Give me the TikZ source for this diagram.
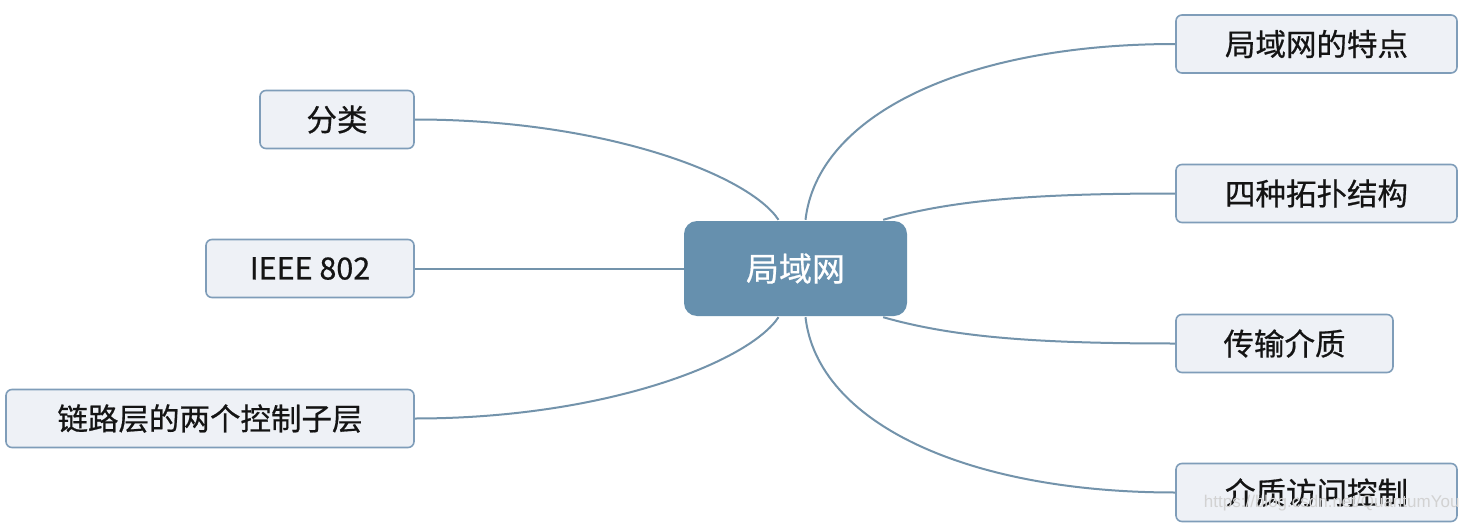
\documentclass[tikz,border=0pt]{standalone}
\usepackage{fontspec}
\newfontfamily\cjk[FakeBold=0.6]{Noto Sans CJK SC}
\newfontfamily\wmfont{Liberation Sans}
\definecolor{hubfill}{HTML}{6690AE}
\definecolor{leaffill}{HTML}{EEF1F6}
\definecolor{leafdraw}{HTML}{7F9DB9}
\definecolor{linkcol}{HTML}{7393AB}
\definecolor{txt}{HTML}{141414}
\tikzset{
  hub/.style={draw=none, fill=hubfill, rounded corners=13pt, minimum width=223pt, minimum height=95pt, inner sep=0pt, text=white, font=\cjk\fontsize{33}{39}\selectfont},
  leaf/.style={draw=leafdraw, line width=1.6pt, fill=leaffill, rounded corners=6pt, minimum height=58pt, inner sep=0pt, text=txt, font=\cjk\fontsize{30.5}{36}\selectfont},
  link/.style={draw=linkcol, line width=2pt}
}
\begin{document}
\begin{tikzpicture}[x=1pt,y=-1pt]
\useasboundingbox[fill=white] (0,0) rectangle (1467,527);
\node[hub] (c) at (795.5,268.5) {局域网};
\node[leaf, minimum width=281pt] (r1) at (1316.5,44) {局域网的特点};
\node[leaf, minimum width=281pt] (r2) at (1316.5,193.5) {四种拓扑结构};
\node[leaf, minimum width=217pt] (r3) at (1284.5,343.5) {传输介质};
\node[leaf, minimum width=281pt] (r4) at (1316.5,492.5) {介质访问控制};
\node[leaf, minimum width=154pt] (l1) at (337,119.5) {分类};
\node[leaf, minimum width=208pt] (l2) at (310,268.5) {IEEE 802};
\node[leaf, minimum width=408pt] (l3) at (210,418.5) {链路层的两个控制子层};
\coordinate (cn1) at ([xshift=10pt,yshift=1pt]c.north);
\coordinate (cn2) at ([xshift=-24pt,yshift=1pt]c.north east);
\coordinate (cs2) at ([xshift=-24pt,yshift=-1pt]c.south east);
\coordinate (cs1) at ([xshift=10pt,yshift=-1pt]c.south);
\coordinate (cn0) at ([xshift=-17pt,yshift=1pt]c.north);
\coordinate (cs0) at ([xshift=-17pt,yshift=-1pt]c.south);
\draw[link] (cn1) .. controls ([xshift=12pt,yshift=105pt]cn1) and ([xshift=-210pt]r1.west) .. (r1.west);
\draw[link] (cn2) .. controls ([xshift=70pt,yshift=20pt]cn2) and ([xshift=-140pt]r2.west) .. (r2.west);
\draw[link] (cs2) .. controls ([xshift=70pt,yshift=-20pt]cs2) and ([xshift=-140pt]r3.west) .. (r3.west);
\draw[link] (cs1) .. controls ([xshift=12pt,yshift=-105pt]cs1) and ([xshift=-210pt]r4.west) .. (r4.west);
\draw[link] (l1.east) .. controls ([xshift=190pt]l1.east) and ([xshift=-30pt,yshift=45pt]cn0) .. (cn0);
\draw[link] (l2.east) -- (c.west |- l2.east);
\draw[link] (l3.east) .. controls ([xshift=190pt]l3.east) and ([xshift=-30pt,yshift=-45pt]cs0) .. (cs0);
\node[font=\wmfont\fontsize{17}{20}\selectfont, text=gray!35, anchor=east] (wm) at (1463,503) {https://blog.csdn.net/QuantumYou};
\end{tikzpicture}
\end{document}
